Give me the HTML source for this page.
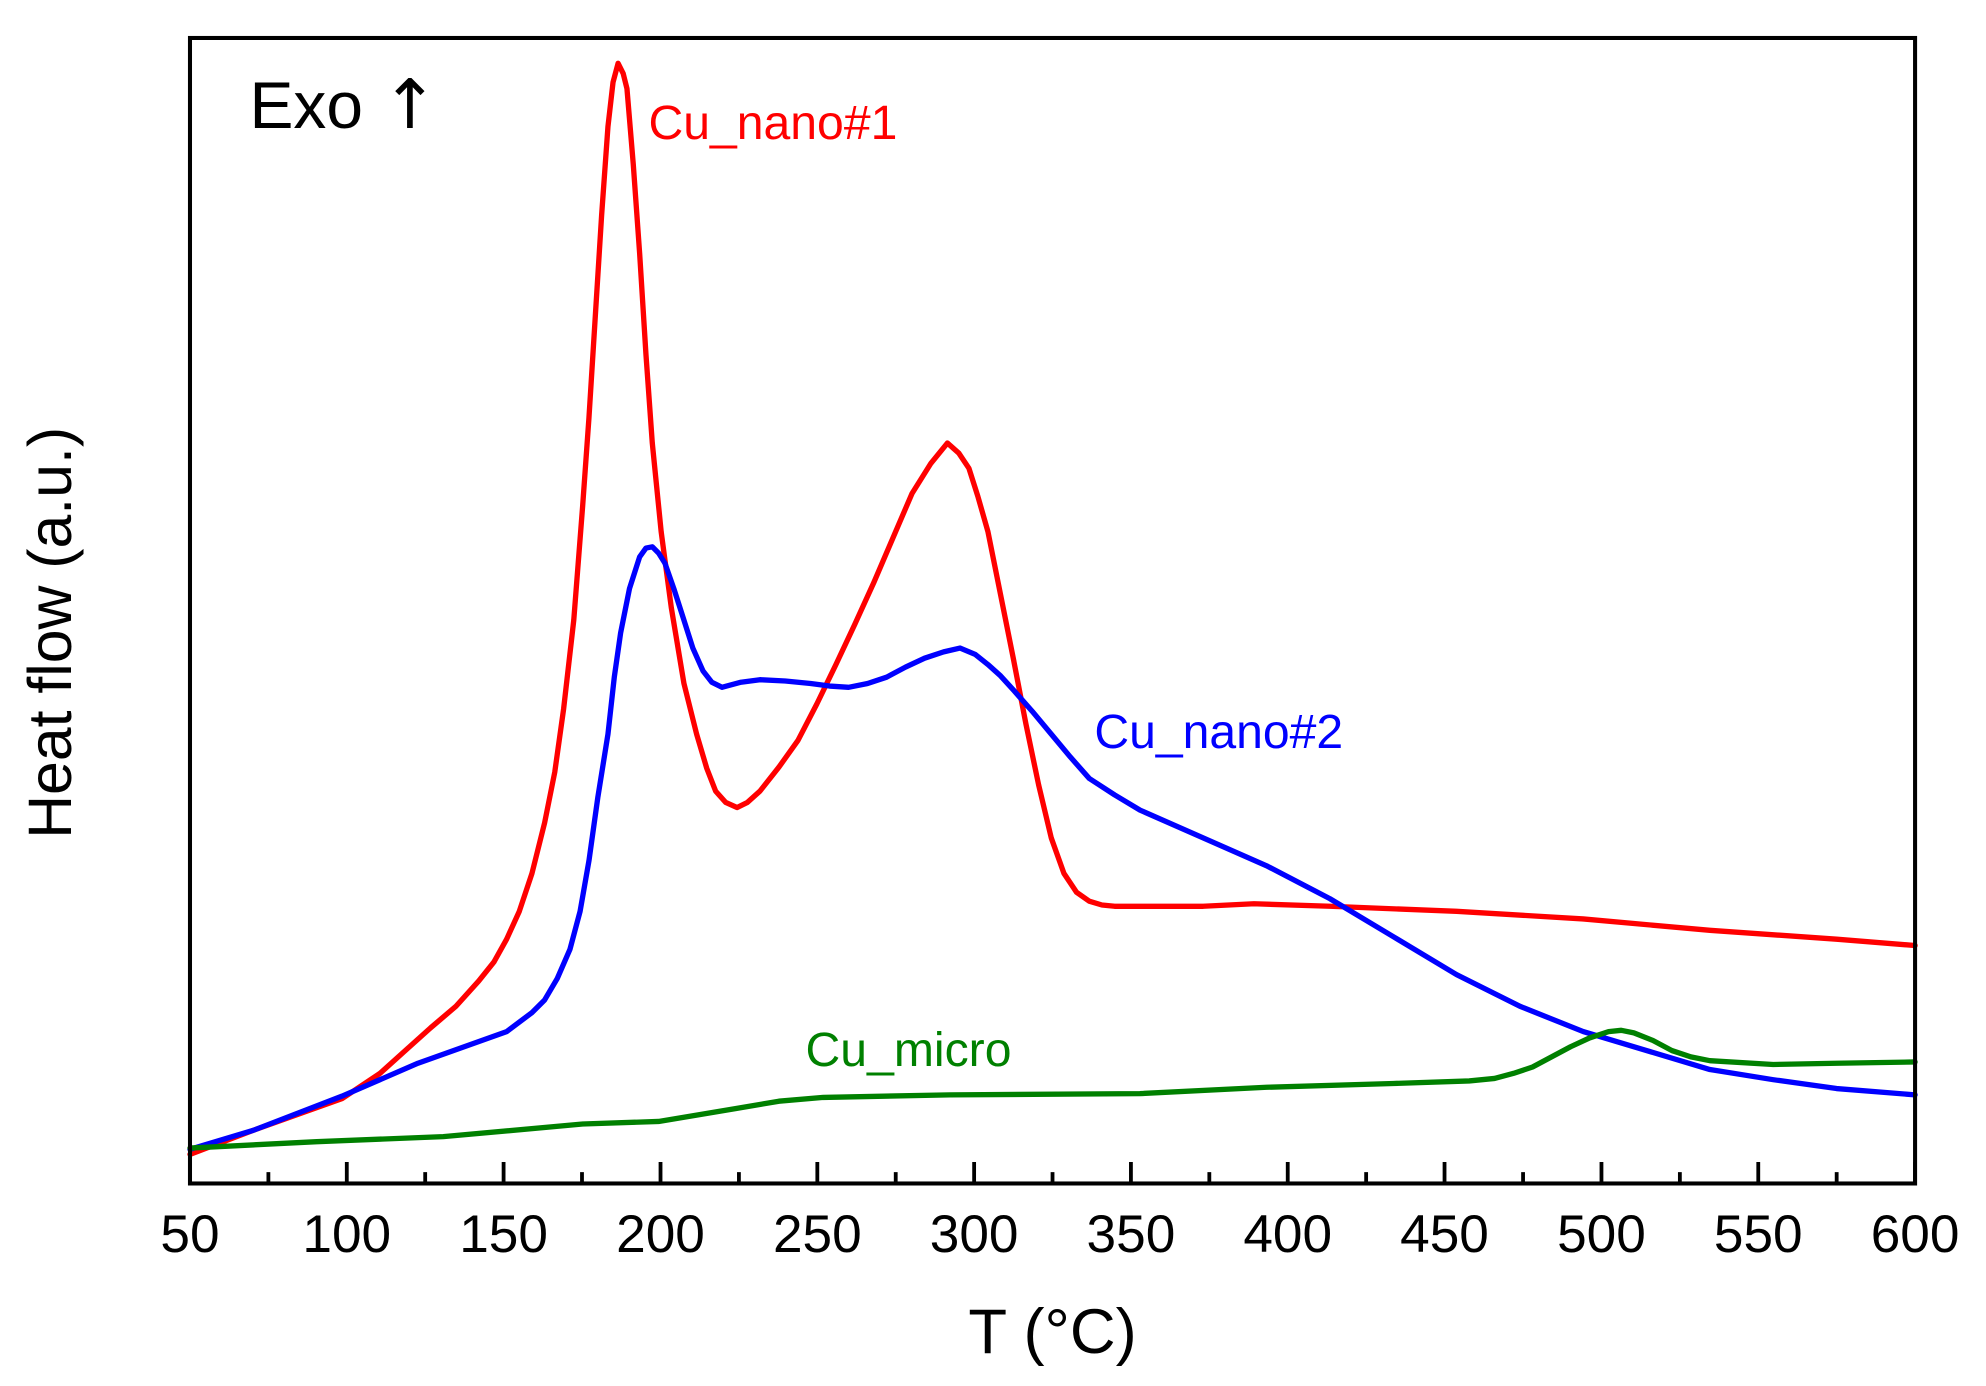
<!DOCTYPE html>
<html><head><style>html,body{margin:0;padding:0;background:#fff}svg{display:block}</style></head>
<body>
<svg width="1986" height="1386" viewBox="0 0 1568 1095" preserveAspectRatio="none" xmlns="http://www.w3.org/2000/svg" font-family="Liberation Sans, Arial, sans-serif">
<rect width="1568" height="1095" fill="#fff"/>
<g fill="none" stroke-width="4.2" stroke-linejoin="round" stroke-linecap="round">
<polyline stroke="#ff0000" points="150,912 200,893 270,868 300,848 320,830 340,812 360,795 378,775 390,760 400,742 410,720 420,690 430,650 438,610 445,560 453,490 460,400 465,330 470,250 475,170 480,100 484,65 488,50 492,58 495,70 500,130 505,200 510,280 515,350 522,420 530,480 540,540 550,580 558,607 565,625 573,634 582,638 590,634 600,625 615,606 630,585 645,556 660,525 675,493 690,460 705,425 720,390 735,366 748,350 757,358 765,370 772,392 780,420 790,470 800,520 810,572 820,620 830,662 840,690 850,705 860,712 870,715 880,716 950,716 990,714 1050,716 1150,720 1250,726 1350,735 1450,742 1512,747"/>
<polyline stroke="#0000ff" points="150,908 200,893 270,866 330,840 400,815 420,800 430,790 440,773 450,750 458,720 465,680 472,630 480,580 485,535 490,500 497,465 505,440 510,433 515,432 520,437 525,445 532,465 540,490 547,512 555,530 562,539 570,543 585,539 600,537 620,538 640,540 655,542 670,543 685,540 700,535 715,527 730,520 745,515 758,512 770,517 780,525 790,534 800,545 815,562 830,580 845,598 860,615 880,628 900,640 950,662 1000,684 1050,710 1100,740 1150,770 1200,795 1250,815 1300,830 1350,845 1400,853 1450,860 1512,865"/>
<polyline stroke="#008000" points="150,907 250,902 350,898 460,888 520,886 550,881 580,876 615,870 650,867 750,865 900,864 1000,859 1100,856 1160,854 1180,852 1195,848 1210,843 1225,835 1240,827 1255,820 1270,815 1280,814 1290,816 1305,822 1320,830 1335,835 1350,838 1400,841 1450,840 1512,839"/>
</g>
<rect x="150" y="30" width="1362" height="905" fill="none" stroke="#000" stroke-width="3.2"/>
<g stroke="#000" stroke-width="3">
<path d="M150 935v-17M273.8 935v-17M397.6 935v-17M521.5 935v-17M645.3 935v-17M769.1 935v-17M892.9 935v-17M1016.7 935v-17M1140.5 935v-17M1264.4 935v-17M1388.2 935v-17M1512 935v-17"/>
<path d="M211.9 935v-9M335.7 935v-9M459.5 935v-9M583.4 935v-9M707.2 935v-9M831 935v-9M954.8 935v-9M1078.6 935v-9M1202.5 935v-9M1326.3 935v-9M1450.1 935v-9"/>
</g>
<g font-size="42" text-anchor="middle" fill="#000">
<text x="150" y="989">50</text><text x="273.8" y="989">100</text><text x="397.6" y="989">150</text><text x="521.5" y="989">200</text><text x="645.3" y="989">250</text><text x="769.1" y="989">300</text><text x="892.9" y="989">350</text><text x="1016.7" y="989">400</text><text x="1140.5" y="989">450</text><text x="1264.4" y="989">500</text><text x="1388.2" y="989">550</text><text x="1512" y="989">600</text>
</g>
<text x="831" y="1069" font-size="50" text-anchor="middle">T (°C)</text>
<text transform="translate(56,500) rotate(-90)" font-size="48" text-anchor="middle">Heat flow (a.u.)</text>
<text x="197" y="101" font-size="52">Exo <tspan font-family="DejaVu Sans, sans-serif" font-size="54">↑</tspan></text>
<text x="512" y="110" font-size="38" fill="#ff0000">Cu_nano#1</text>
<text x="864" y="591" font-size="38" fill="#0000ff">Cu_nano#2</text>
<text x="636" y="842" font-size="38" fill="#008000">Cu_micro</text>
</svg>
</body></html>
